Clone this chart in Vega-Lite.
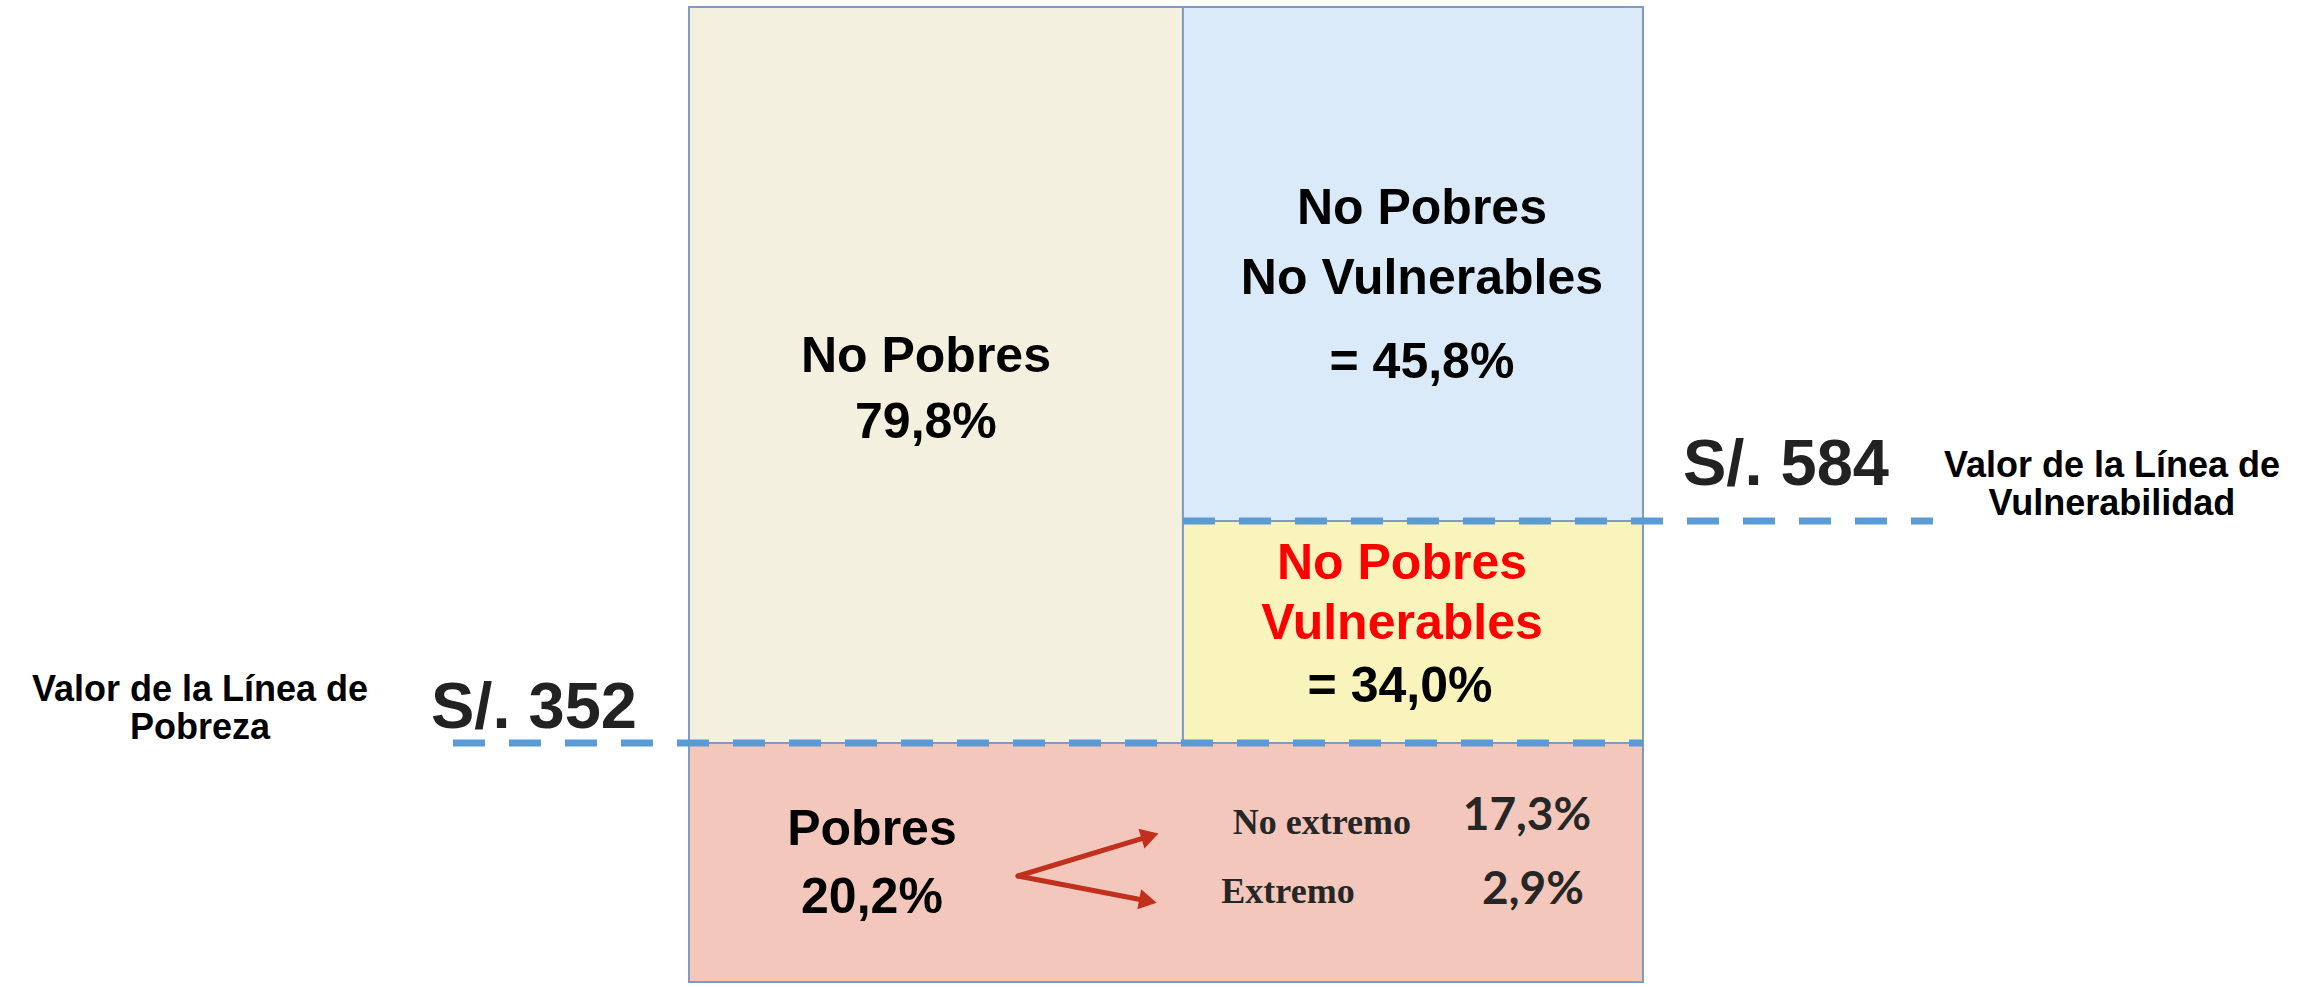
{
  "$schema": "https://vega.github.io/schema/vega-lite/v6.json",
  "width": 2306,
  "height": 987,
  "padding": 0,
  "autosize": {"type": "fit", "contains": "padding"},
  "background": "white",
  "config": {"view": {"stroke": null}},
  "datasets": {
    "rects": [
      {"zone": "No Pobres", "x": 0, "x2": 51.78, "y": 24.51, "y2": 100},
      {"zone": "No Pobres No Vulnerables", "x": 51.78, "x2": 100, "y": 47.28, "y2": 100},
      {"zone": "No Pobres Vulnerables", "x": 51.78, "x2": 100, "y": 24.51, "y2": 47.28},
      {"zone": "Pobres", "x": 0, "x2": 100, "y": 0, "y2": 24.51}
    ],
    "lines": [
      {"line": "Línea de Pobreza", "x": -24.74, "x2": 100, "y": 24.51},
      {"line": "Línea de Vulnerabilidad", "x": 51.78, "x2": 130.4, "y": 47.28}
    ],
    "arrows": [
      {"tipo": "No extremo", "x": 34.49, "y": 10.87, "x2": 48.32, "y2": 14.97, "angle": 343.2},
      {"tipo": "Extremo", "x": 34.49, "y": 10.87, "x2": 48.11, "y2": 8.31, "angle": 10.9}
    ],
    "labels": [
      {"text": "No Pobres", "x": 24.84, "y": 62.6, "style": "main"},
      {"text": "79,8%", "x": 24.84, "y": 55.75, "style": "main"},
      {"text": "No Pobres", "x": 76.83, "y": 77.75, "style": "main"},
      {"text": "No Vulnerables", "x": 76.83, "y": 70.6, "style": "main"},
      {"text": "= 45,8%", "x": 76.83, "y": 61.9, "style": "main"},
      {"text": "No Pobres", "x": 74.74, "y": 41.3, "style": "red"},
      {"text": "Vulnerables", "x": 74.74, "y": 35.2, "style": "red"},
      {"text": "= 34,0%", "x": 74.53, "y": 28.7, "style": "main"},
      {"text": "Pobres", "x": 19.18, "y": 14.0, "style": "main"},
      {"text": "20,2%", "x": 19.18, "y": 7.05, "style": "main"},
      {"text": "No extremo", "x": 66.35, "y": 15.18, "style": "gothic"},
      {"text": "Extremo", "x": 62.79, "y": 8.1, "style": "gothic"},
      {"text": "17,3%", "x": 87.84, "y": 15.59, "style": "pct"},
      {"text": "2,9%", "x": 88.47, "y": 8.0, "style": "pct"},
      {"text": "S/. 352", "x": -16.25, "y": 26.05, "style": "price"},
      {"text": "S/. 584", "x": 114.99, "y": 50.97, "style": "price"},
      {"text": "Valor de la Línea de\nPobreza", "x": -51.26, "y": 28.8, "style": "note"},
      {"text": "Valor de la Línea de\nVulnerabilidad", "x": 149.16, "y": 51.8, "style": "note"}
    ]
  },
  "encoding": {
    "x": {"field": "x", "type": "quantitative", "axis": null, "scale": {"domain": [-72.22, 169.5], "nice": false, "zero": false}},
    "y": {"field": "y", "type": "quantitative", "axis": null, "scale": {"domain": [-0.513, 100.718], "nice": false, "zero": false}}
  },
  "layer": [
    {
      "data": {"name": "rects"},
      "mark": {"type": "rect", "stroke": "#7E9CC0", "strokeWidth": 2},
      "encoding": {
        "x2": {"field": "x2"},
        "y2": {"field": "y2"},
        "color": {"field": "zone", "type": "nominal", "legend": null,
          "scale": {"domain": ["No Pobres", "No Pobres No Vulnerables", "No Pobres Vulnerables", "Pobres"],
                    "range": ["#F3F0DF", "#DAEAF8", "#F8F4BC", "#F3C7BB"]}}
      }
    },
    {
      "data": {"name": "lines"},
      "mark": {"type": "rule", "color": "#5B9BD5", "strokeWidth": 7, "strokeDash": [32, 24]},
      "encoding": {"x2": {"field": "x2"}}
    },
    {
      "data": {"name": "arrows"},
      "mark": {"type": "rule", "color": "#C0301C", "strokeWidth": 5, "strokeCap": "round"},
      "encoding": {"x2": {"field": "x2"}, "y2": {"field": "y2"}}
    },
    {
      "data": {"name": "arrows"},
      "mark": {"type": "point", "shape": "triangle-right", "filled": true, "color": "#C0301C", "opacity": 1, "size": 420},
      "encoding": {
        "x": {"field": "x2", "type": "quantitative"},
        "y": {"field": "y2", "type": "quantitative"},
        "angle": {"field": "angle", "type": "quantitative", "scale": null}
      }
    },
    {
      "data": {"name": "labels"},
      "transform": [{"filter": "datum.style == 'main'"}],
      "mark": {"type": "text", "font": "Liberation Sans", "fontWeight": "bold", "fontSize": 50, "color": "#000000", "align": "center", "baseline": "alphabetic"},
      "encoding": {"text": {"field": "text"}}
    },
    {
      "data": {"name": "labels"},
      "transform": [{"filter": "datum.style == 'red'"}],
      "mark": {"type": "text", "font": "Liberation Sans", "fontWeight": "bold", "fontSize": 50, "color": "#FF0000", "align": "center", "baseline": "alphabetic"},
      "encoding": {"text": {"field": "text"}}
    },
    {
      "data": {"name": "labels"},
      "transform": [{"filter": "datum.style == 'gothic'"}],
      "mark": {"type": "text", "font": "Liberation Serif", "fontWeight": "bold", "fontSize": 36, "color": "#262626", "align": "center", "baseline": "alphabetic"},
      "encoding": {"text": {"field": "text"}}
    },
    {
      "data": {"name": "labels"},
      "transform": [{"filter": "datum.style == 'pct'"}],
      "mark": {"type": "text", "font": "Lato", "fontWeight": "bold", "fontSize": 46, "color": "#262626", "align": "center", "baseline": "alphabetic"},
      "encoding": {"text": {"field": "text"}}
    },
    {
      "data": {"name": "labels"},
      "transform": [{"filter": "datum.style == 'price'"}],
      "mark": {"type": "text", "font": "Liberation Sans", "fontWeight": "bold", "fontSize": 65, "color": "#222222", "align": "center", "baseline": "alphabetic"},
      "encoding": {"text": {"field": "text"}}
    },
    {
      "data": {"name": "labels"},
      "transform": [{"filter": "datum.style == 'note'"}],
      "mark": {"type": "text", "font": "Liberation Sans", "fontWeight": "bold", "fontSize": 36, "lineHeight": 38, "lineBreak": "\n", "color": "#000000", "align": "center", "baseline": "alphabetic"},
      "encoding": {"text": {"field": "text"}}
    }
  ]
}
